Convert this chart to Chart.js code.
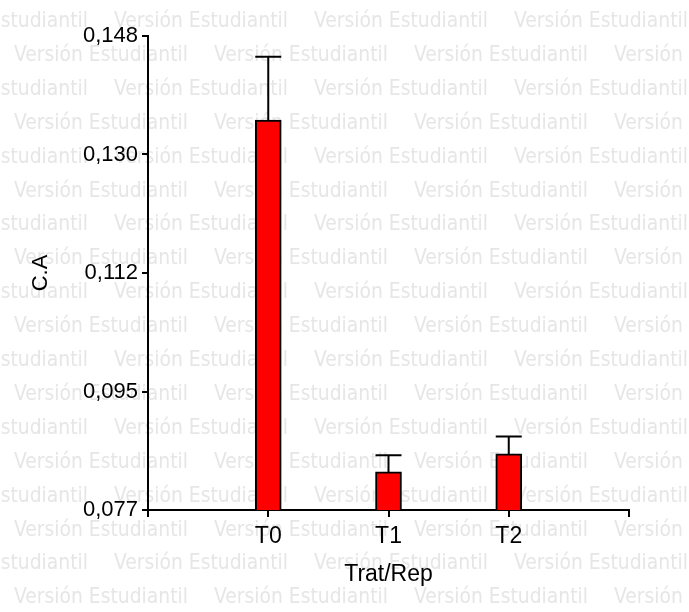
<!DOCTYPE html>
<html>
<head>
<meta charset="utf-8">
<title>C.A por Trat/Rep</title>
<script src="https://cdn.jsdelivr.net/npm/chart.js@4/dist/chart.umd.min.js"></script>
<style>
  html, body { margin: 0; padding: 0; background: #fff; }
  #wrap { width: 689px; height: 612px; }
</style>
</head>
<body>
<div id="wrap"><canvas id="caChart" width="689" height="612"></canvas></div>
<script>
// data
const categories = ['T0', 'T1', 'T2'];
const means = [0.1354, 0.0827, 0.0854];
const errors = [0.0095, 0.0025, 0.0026];
const yTickValues = [0.077, 0.09475, 0.1125, 0.13025, 0.148];
const yTickLabels = ['0,077', '0,095', '0,112', '0,130', '0,148'];
const watermark = 'Versión Estudiantil';

// one empty slot before and after so the categories sit like the original axis
const labels = [''].concat(categories, ['']);
const values = [null].concat(means, [null]);
const errs = [null].concat(errors, [null]);

const watermarkPlugin = {
  id: 'watermark',
  beforeDraw(chart) {
    const ctx = chart.ctx;
    ctx.save();
    ctx.fillStyle = '#e6e6e6';
    ctx.font = '21px "DejaVu Sans Condensed", "Liberation Sans", sans-serif';
    ctx.textBaseline = 'alphabetic';
    for (let row = 0; row < 19; row++) {
      const y = 27 + row * 33.9;
      const start = row % 2 === 0 ? -86 : 14;
      for (let x = start; x < chart.width; x += 200) {
        ctx.fillText(watermark, x, y, 174);
      }
    }
    ctx.restore();
  }
};

const errorBarPlugin = {
  id: 'errorBars',
  afterDatasetsDraw(chart) {
    const ctx = chart.ctx;
    const meta = chart.getDatasetMeta(0);
    const yScale = chart.scales.y;
    ctx.save();
    ctx.strokeStyle = '#000';
    ctx.lineWidth = 2;
    meta.data.forEach((bar, i) => {
      if (values[i] == null) return;
      const yBar = yScale.getPixelForValue(values[i]);
      const yTop = yScale.getPixelForValue(values[i] + errs[i]);
      const half = 13;
      ctx.beginPath();
      ctx.moveTo(bar.x, yBar);
      ctx.lineTo(bar.x, yTop);
      ctx.moveTo(bar.x - half, yTop);
      ctx.lineTo(bar.x + half, yTop);
      ctx.stroke();
    });
    ctx.restore();
  }
};

const ctx = document.getElementById('caChart').getContext('2d');
new Chart(ctx, {
  type: 'bar',
  data: {
    labels: labels,
    datasets: [{
      label: 'C.A',
      data: values,
      backgroundColor: '#ff0000',
      borderColor: '#000',
      borderWidth: 2,
      barThickness: 26
    }]
  },
  options: {
    responsive: false,
    animation: false,
    layout: { padding: { top: 36, right: 60, left: 0, bottom: 0 } },
    plugins: {
      legend: { display: false },
      tooltip: { enabled: false }
    },
    scales: {
      x: {
        offset: false,
        afterFit: (scale) => { scale.height = 102; },
        grid: { offset: false, drawOnChartArea: false, drawTicks: true, tickLength: 7, color: '#000', lineWidth: 2 },
        border: { display: true, color: '#000', width: 2 },
        ticks: {
          color: '#000',
          padding: 6,
          maxRotation: 0,
          autoSkip: false,
          font: { family: '"Liberation Sans", Arial, sans-serif', size: 23 }
        },
        title: {
          display: true,
          text: 'Trat/Rep',
          color: '#000',
          padding: { top: 0, bottom: 24 },
          font: { family: '"Liberation Sans", Arial, sans-serif', size: 23 }
        }
      },
      y: {
        min: 0.077,
        max: 0.148,
        afterFit: (scale) => { scale.width = 148; },
        afterBuildTicks: (scale) => { scale.ticks = yTickValues.map(v => ({ value: v })); },
        grid: { drawOnChartArea: false, drawTicks: true, tickLength: 6, color: '#000', lineWidth: 2 },
        border: { display: true, color: '#000', width: 2 },
        ticks: {
          color: '#000',
          padding: 4,
          callback: (value, index) => yTickLabels[index],
          font: { family: '"Liberation Sans", Arial, sans-serif', size: 22 }
        },
        title: {
          display: true,
          text: 'C.A',
          color: '#000',
          padding: { top: 28, bottom: 0 },
          font: { family: '"Liberation Sans", Arial, sans-serif', size: 22 }
        }
      }
    }
  },
  plugins: [watermarkPlugin, errorBarPlugin]
});
</script>
</body>
</html>
